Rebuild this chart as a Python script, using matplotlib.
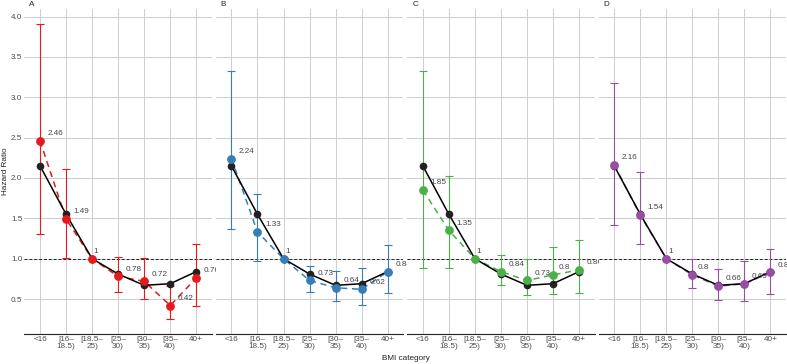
import numpy as np
import matplotlib
matplotlib.use("Agg")
import matplotlib.pyplot as plt
from matplotlib.textpath import TextPath
from matplotlib.font_manager import FontProperties

plt.rcParams["font.family"] = ["Liberation Sans", "DejaVu Sans"]

categories = ["<16", "[16–\n18.5)", "[18.5–\n25)", "[25–\n30)", "[30–\n35)", "[35–\n40)", "40+"]
panels = ["A", "B", "C", "D"]
colors = ["#E41A1C", "#377EB8", "#4DAF4A", "#984EA3"]

# reference curve repeated in every panel
overall_hr = [2.15, 1.55, 1.00, 0.81, 0.67, 0.69, 0.84]

hr_a = [2.46, 1.49, 1.00, 0.78, 0.72, 0.42, 0.76]
lo_a = [1.31, 1.01, 1.00, 0.59, 0.50, 0.25, 0.42]
hi_a = [3.91, 2.11, 1.00, 1.02, 1.01, 0.66, 1.18]

hr_b = [2.24, 1.33, 1.00, 0.73, 0.64, 0.62, 0.84]
lo_b = [1.37, 0.97, 1.00, 0.59, 0.47, 0.43, 0.57]
hi_b = [3.33, 1.80, 1.00, 0.91, 0.85, 0.88, 1.17]

hr_c = [1.85, 1.35, 1.00, 0.84, 0.73, 0.80, 0.86]
lo_c = [0.89, 0.89, 1.00, 0.67, 0.55, 0.56, 0.58]
hi_c = [3.33, 2.02, 1.00, 1.05, 0.99, 1.14, 1.23]

hr_d = [2.16, 1.54, 1.00, 0.80, 0.66, 0.69, 0.83]
lo_d = [1.42, 1.18, 1.00, 0.64, 0.49, 0.48, 0.56]
hi_d = [3.18, 2.07, 1.00, 0.99, 0.87, 0.97, 1.12]

series = [(hr_a, lo_a, hi_a), (hr_b, lo_b, hi_b), (hr_c, lo_c, hi_c), (hr_d, lo_d, hi_d)]

W, H = 787, 364
fig = plt.figure(figsize=(W / 100, H / 100), dpi=100)
fs = 5.9
fp = FontProperties(family="Liberation Sans", size=fs)
x = np.arange(len(categories))

panel_w = 187.5
gap = 3.9
left0 = 24.4
bottom_px, top_px = 334, 9

for i, (name, col, (hr, lo, hi)) in enumerate(zip(panels, colors, series)):
    lpx = left0 + i * (panel_w + gap)
    ax = fig.add_axes([lpx / W, (H - bottom_px) / H, panel_w / W, (bottom_px - top_px) / H])
    ax.set_xlim(-0.6, 6.6)
    ax.set_ylim(0.067, 4.093)
    ax.set_yticks([0.5, 1.0, 1.5, 2.0, 2.5, 3.0, 3.5, 4.0])
    ax.set_xticks(x)
    ax.set_xticklabels(categories, fontsize=fs, color="#4D4D4D", linespacing=0.95)
    ax.tick_params(length=0, pad=1.5, labelsize=fs, colors="#4D4D4D")
    if i > 0:
        ax.set_yticklabels([])
    ax.grid(True, color="#CFCFCF", lw=0.75, zorder=0)
    ax.set_axisbelow(True)
    for s in ["top", "left", "right"]:
        ax.spines[s].set_visible(False)
    ax.spines["bottom"].set_color("#222222")
    ax.spines["bottom"].set_linewidth(0.8)

    ax.axhline(1.0, color="#222222", lw=0.7, dashes=(3, 2), zorder=1)

    hr = np.array(hr)
    yerr = np.vstack([hr - np.array(lo), np.array(hi) - hr])
    ax.errorbar(x, hr, yerr=yerr, fmt="none", ecolor=col, elinewidth=0.8,
                capsize=3, capthick=0.8, zorder=2)
    ax.plot(x, hr, color=col, lw=1.1, dashes=(4, 3), zorder=2.5)
    ax.plot(x, overall_hr, color="black", lw=1.1, zorder=3)
    ax.plot(x, overall_hr, "o", color="#222222", ms=4.5, zorder=3.5)
    ax.plot(x, hr, "o", color=col, ms=5.3, zorder=4)

    for xi, v in zip(x, hr):
        txt = f"{v:g}"
        w = TextPath((0, 0), txt, prop=fp).get_extents().width
        t = ax.annotate(txt, (xi, v), xytext=(0.5 * w, 0.45 * fs), textcoords="offset points",
                        ha="left", va="bottom", fontsize=fs, color="#444444", zorder=5)
        t.set_clip_on(True)

    fig.text((lpx + 5) / W, 1 - 4 / H, name, fontsize=fs, color="#222222", ha="left", va="center")

fig.text(6 / W, 1 - 171 / H, "Hazard Ratio", rotation=90, fontsize=fs, color="#222222",
         ha="center", va="center")
fig.text(406 / W, 1 - 358 / H, "BMI category", fontsize=fs, color="#222222",
         ha="center", va="center")

fig.savefig("out.png", dpi=100)
